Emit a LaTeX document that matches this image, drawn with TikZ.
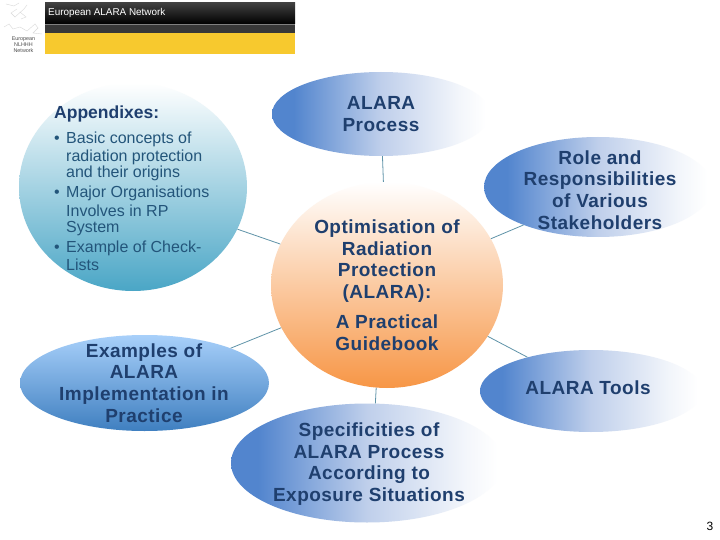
\documentclass[tikz,border=0pt]{standalone}
\usepackage{fontspec}
\setmainfont{Liberation Sans}
\newfontfamily\boldlbl[LetterSpace=2.5]{Liberation Sans Bold}
\usetikzlibrary{shapes.geometric}
\definecolor{navy}{HTML}{1F3F6E}
\definecolor{tealtxt}{HTML}{23557A}
\definecolor{linkc}{HTML}{5F93A8}
\definecolor{bluel}{HTML}{5285CE}
\definecolor{bluem}{HTML}{BFCFEB}
\definecolor{bluef}{HTML}{F3F6FB}
\definecolor{hdryellow}{HTML}{F7C92E}
\definecolor{tealm}{HTML}{BBD8E3}
\definecolor{tealb}{HTML}{4AA6C6}
\definecolor{orangeb}{HTML}{F79646}
\definecolor{skyt}{HTML}{A8D0FA}
\definecolor{skyb}{HTML}{3F7FC0}
\pgfdeclarehorizontalshading{fadeblueshade}{100bp}{color(0bp)=(bluel); color(30bp)=(bluel); color(50bp)=(bluem); color(68bp)=(bluef); color(74bp)=(white); color(100bp)=(white)}
\tikzset{
  blob/.style={ellipse,inner sep=0pt,minimum width=#1},
  fadeblue/.style={shade,shading=fadeblueshade},
  linkline/.style={draw=linkc,line width=0.8pt},
  title/.style={font=\boldlbl\fontsize{19}{21.7}\selectfont,text=navy,align=center,inner sep=0pt},
  body/.style={font=\fontsize{16}{18}\selectfont,text=tealtxt,anchor=base west,inner sep=0pt},
  mapline/.style={draw=black!15,line width=0.4pt}
}
\begin{document}
\begin{tikzpicture}[x=1pt,y=-1pt]
\useasboundingbox (0,0) rectangle (720,540);
\fill[white] (0,0) rectangle (720,540);
% header
\shade[top color=black!75,bottom color=black] (45,3) rectangle (295,24);
\fill[black!50] (45,24) rectangle (295,25);
\fill[black!78] (45,25) rectangle (295,33);
\fill[hdryellow] (45,33) rectangle (295,54);
\node[anchor=west,text=white,font=\fontsize{9.9}{11}\selectfont,inner sep=0pt] (hdr) at (48,12.5) {European ALARA Network};
\node[align=center,text=black!70,font=\fontsize{5.4}{5.9}\selectfont,inner sep=0pt] (net) at (23.5,44.5) {European\\NLHHH\\Network};
\draw[mapline] (6,4)--(14,6)--(19,3) (17,9)--(11,13)--(15,17)--(24,9)--(27,5)
  (4,27)--(9,24)--(13,29)--(20,27)--(27,31)--(35,24)--(38,28)--(33,33)--(42,34)
  (20,12)--(26,17)--(21,19);
% shapes
\node[blob=228pt,minimum height=208pt,shade,top color=white,middle color=tealm,bottom color=tealb] (app) at (133,187) {};
\node[blob=232pt,minimum height=206pt,shade,top color=white,bottom color=orangeb] (main) at (387,285) {};
\node[blob=218pt,minimum height=84pt,fadeblue] (proc) at (381,114) {};
\node[blob=228pt,minimum height=100pt,fadeblue] (role) at (598,187) {};
\node[blob=222pt,minimum height=82pt,fadeblue] (tools) at (591,391) {};
\node[blob=272pt,minimum height=119pt,fadeblue] (spec) at (367,463) {};
\node[blob=249pt,minimum height=96pt,shade,top color=skyt,bottom color=skyb] (ex) at (144.5,383) {};
% connectors
\draw[linkline] (proc.272) -- (main.92);
\draw[linkline] (app.-22) -- (main.159);
\draw[linkline] (ex.22.6) -- (main.-158);
\draw[linkline] (role.-153) -- (main.24);
\draw[linkline] (tools.152) -- (main.-27);
\draw[linkline] (main.-96) -- (spec.82);
% texts
\node[title] (t1) at (381,114) {ALARA\\Process};
\node[title] (t2) at (600,190) {Role and\\Responsibilities\\of Various\\Stakeholders};
\node[title] (t3) at (387,261) {Optimisation of\\Radiation\\Protection\\(ALARA):};
\node[title] (t4) at (387,333) {A Practical\\Guidebook};
\node[title] (t5) at (588,388) {ALARA Tools};
\node[title] (t6) at (369,464) {Specificities of\\ALARA Process\\According to\\Exposure Situations};
\node[title] (t7) at (144,383) {Examples of\\ALARA\\Implementation in\\Practice};
\node[anchor=base west,inner sep=0pt,text=navy,font=\bfseries\fontsize{17.5}{20}\selectfont] (a0) at (54,119) {Appendixes:};
\node[body] (b1) at (54,143.5) {•};
\node[body] (a1) at (66,143.5) {Basic concepts of};
\node[body] (a2) at (66,161.5) {radiation protection};
\node[body] (a3) at (66,178) {and their origins};
\node[body] (b2) at (54,198) {•};
\node[body] (a4) at (66,198) {Major Organisations};
\node[body] (a5) at (66,216) {Involves in RP};
\node[body] (a6) at (66,233) {System};
\node[body] (b3) at (54,252.5) {•};
\node[body] (a7) at (66,252.5) {Example of Check-};
\node[body] (a8) at (66,270) {Lists};
\node[anchor=base east,inner sep=0pt,font=\fontsize{12}{14}\selectfont,text=black] (pg) at (713.5,530) {3};
\end{tikzpicture}
\end{document}
